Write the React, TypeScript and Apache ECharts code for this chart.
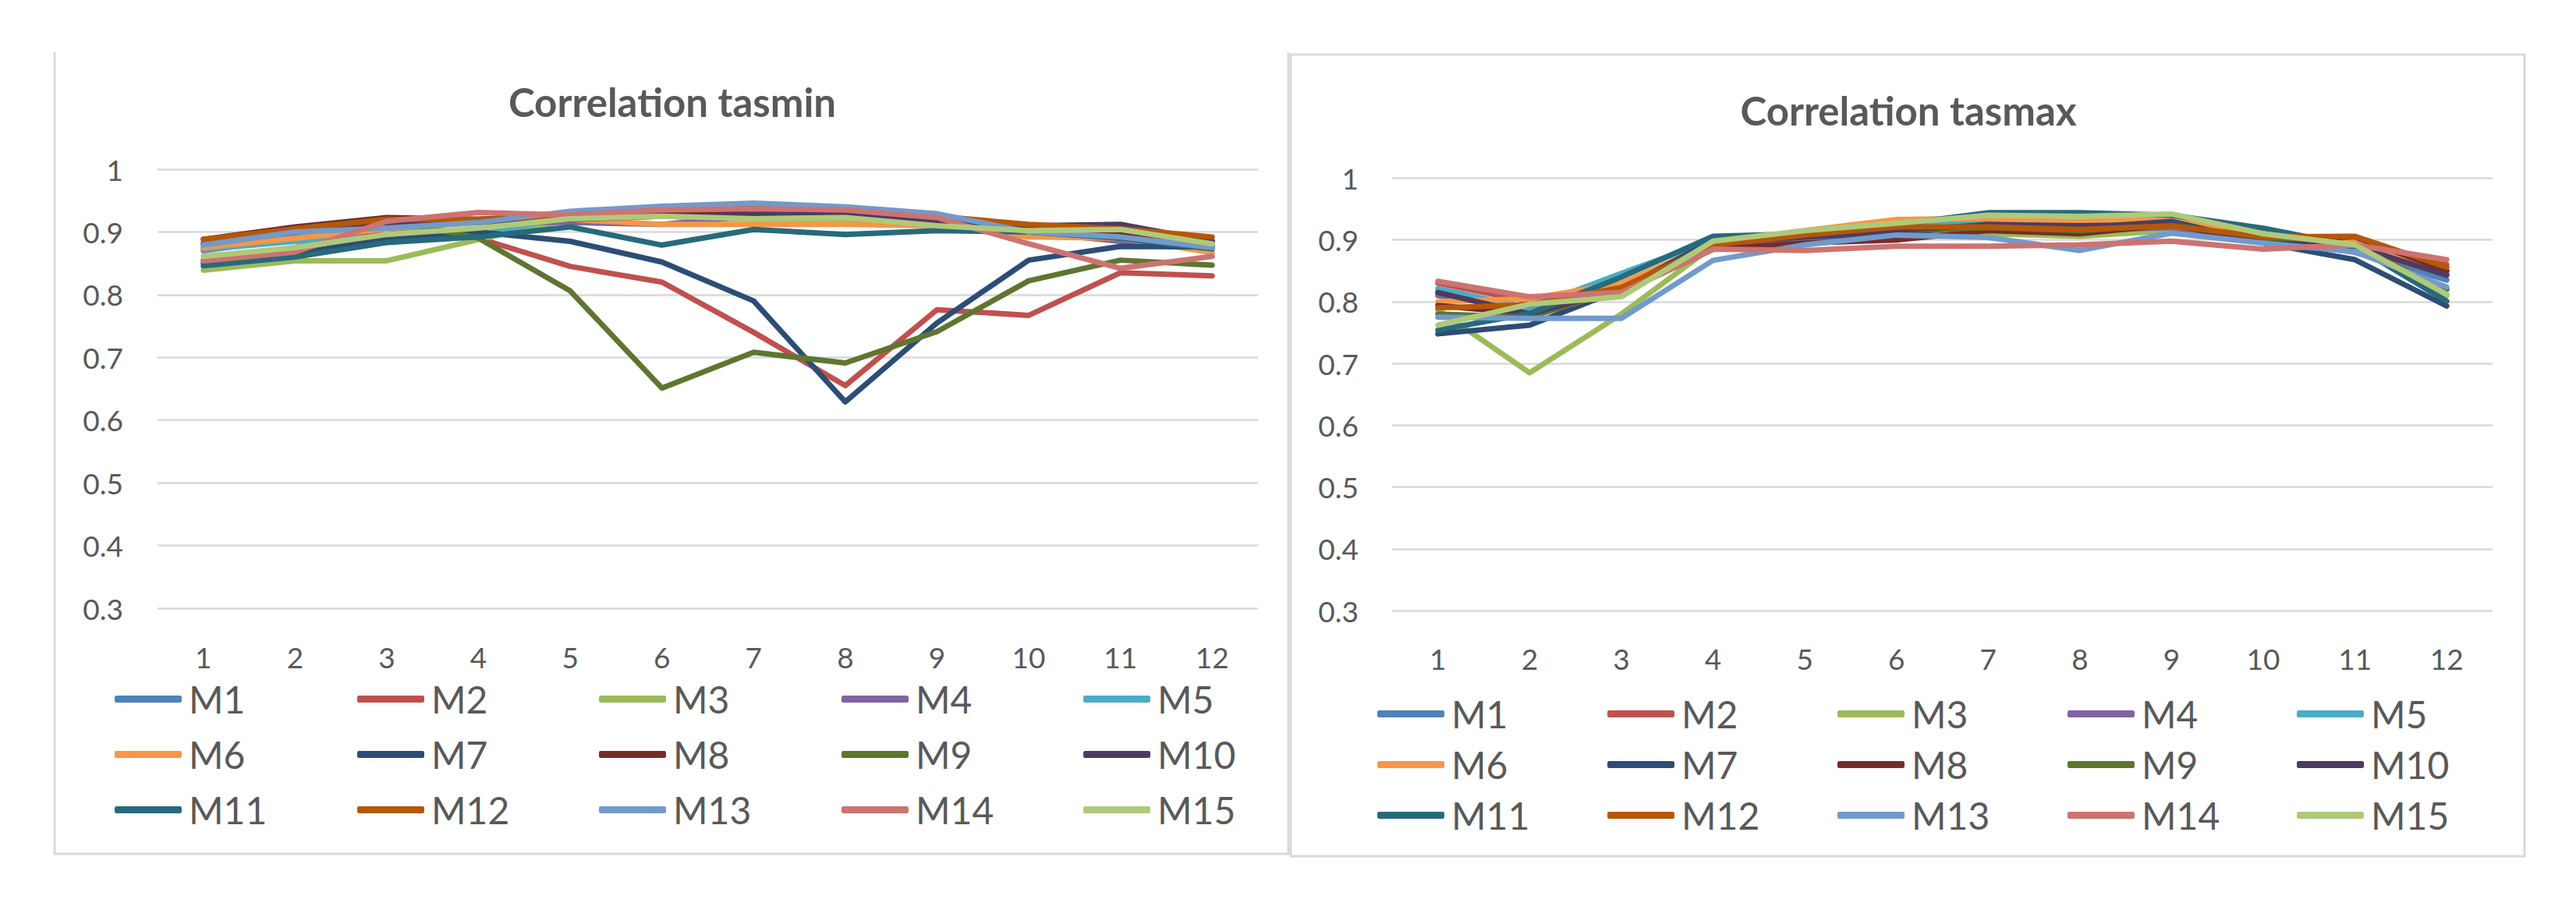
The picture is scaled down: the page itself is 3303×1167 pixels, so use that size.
import React, { useEffect, useRef } from "react";
import * as echarts from "echarts";

const months = ["1", "2", "3", "4", "5", "6", "7", "8", "9", "10", "11", "12"];
const modelNames = ["M1", "M2", "M3", "M4", "M5", "M6", "M7", "M8", "M9", "M10", "M11", "M12", "M13", "M14", "M15"];
const modelColors = [
  "#4F81BD", "#C0504D", "#9BBB59", "#8064A2", "#4BACC6",
  "#F79646", "#2C4D75", "#772C2A", "#5F7530", "#4D3B62",
  "#276A7C", "#B65708", "#729ACA", "#CD7371", "#AFC97A",
];
const yTicks = [0.3, 0.4, 0.5, 0.6, 0.7, 0.8, 0.9, 1];
const titles = ["Correlation tasmin", "Correlation tasmax"];

// Correlation tasmin
const tasmin_M1 = [0.875, 0.895, 0.91, 0.92, 0.93, 0.94, 0.945, 0.935, 0.925, 0.905, 0.895, 0.88];
const tasmin_M2 = [0.855, 0.875, 0.905, 0.89, 0.845, 0.82, 0.74, 0.655, 0.776, 0.767, 0.835, 0.83];
const tasmin_M3 = [0.839, 0.854, 0.854, 0.888, 0.92, 0.925, 0.92, 0.92, 0.91, 0.9, 0.9, 0.88];
const tasmin_M4 = [0.87, 0.89, 0.91, 0.915, 0.915, 0.912, 0.925, 0.925, 0.915, 0.9, 0.885, 0.875];
const tasmin_M5 = [0.872, 0.885, 0.893, 0.895, 0.925, 0.935, 0.935, 0.93, 0.92, 0.905, 0.895, 0.88];
const tasmin_M6 = [0.875, 0.89, 0.905, 0.915, 0.92, 0.912, 0.912, 0.912, 0.91, 0.892, 0.89, 0.867];
const tasmin_M7 = [0.85, 0.865, 0.89, 0.9, 0.885, 0.852, 0.79, 0.629, 0.755, 0.855, 0.877, 0.876];
const tasmin_M8 = [0.888, 0.908, 0.923, 0.92, 0.925, 0.93, 0.935, 0.935, 0.92, 0.905, 0.9, 0.885];
const tasmin_M9 = [0.882, 0.905, 0.92, 0.89, 0.806, 0.651, 0.708, 0.691, 0.741, 0.822, 0.855, 0.847];
const tasmin_M10 = [0.88, 0.9, 0.915, 0.915, 0.92, 0.925, 0.927, 0.93, 0.915, 0.91, 0.912, 0.885];
const tasmin_M11 = [0.846, 0.86, 0.883, 0.892, 0.908, 0.879, 0.904, 0.896, 0.902, 0.9, 0.89, 0.873];
const tasmin_M12 = [0.888, 0.905, 0.92, 0.92, 0.925, 0.935, 0.94, 0.939, 0.925, 0.912, 0.905, 0.892];
const tasmin_M13 = [0.879, 0.9, 0.906, 0.915, 0.933, 0.941, 0.946, 0.94, 0.929, 0.9, 0.892, 0.875];
const tasmin_M14 = [0.854, 0.868, 0.917, 0.931, 0.927, 0.935, 0.937, 0.935, 0.923, 0.881, 0.842, 0.861];
const tasmin_M15 = [0.861, 0.875, 0.896, 0.906, 0.921, 0.925, 0.921, 0.923, 0.91, 0.902, 0.904, 0.881];

// Correlation tasmax
const tasmax_M1 = [0.815, 0.785, 0.83, 0.885, 0.9, 0.91, 0.915, 0.91, 0.915, 0.9, 0.88, 0.835];
const tasmax_M2 = [0.83, 0.8, 0.82, 0.89, 0.905, 0.915, 0.92, 0.915, 0.92, 0.9, 0.895, 0.86];
const tasmax_M3 = [0.787, 0.685, 0.78, 0.89, 0.91, 0.915, 0.91, 0.906, 0.915, 0.905, 0.89, 0.81];
const tasmax_M4 = [0.81, 0.79, 0.83, 0.89, 0.905, 0.915, 0.92, 0.915, 0.92, 0.9, 0.885, 0.845];
const tasmax_M5 = [0.821, 0.79, 0.846, 0.9, 0.91, 0.925, 0.93, 0.925, 0.93, 0.905, 0.885, 0.82];
const tasmax_M6 = [0.8, 0.805, 0.83, 0.895, 0.915, 0.933, 0.935, 0.93, 0.935, 0.91, 0.895, 0.85];
const tasmax_M7 = [0.748, 0.762, 0.82, 0.9, 0.905, 0.91, 0.925, 0.92, 0.93, 0.895, 0.868, 0.793];
const tasmax_M8 = [0.794, 0.78, 0.815, 0.885, 0.895, 0.9, 0.915, 0.91, 0.925, 0.9, 0.905, 0.85];
const tasmax_M9 = [0.78, 0.775, 0.82, 0.895, 0.905, 0.915, 0.92, 0.915, 0.925, 0.9, 0.89, 0.82];
const tasmax_M10 = [0.815, 0.78, 0.82, 0.895, 0.905, 0.915, 0.925, 0.923, 0.925, 0.895, 0.89, 0.843];
const tasmax_M11 = [0.754, 0.781, 0.84, 0.906, 0.91, 0.925, 0.944, 0.944, 0.94, 0.919, 0.89, 0.801];
const tasmax_M12 = [0.79, 0.795, 0.823, 0.892, 0.908, 0.921, 0.921, 0.917, 0.923, 0.905, 0.906, 0.856];
const tasmax_M13 = [0.775, 0.773, 0.773, 0.867, 0.892, 0.908, 0.904, 0.883, 0.911, 0.895, 0.881, 0.824];
const tasmax_M14 = [0.833, 0.808, 0.815, 0.885, 0.883, 0.89, 0.89, 0.892, 0.898, 0.885, 0.892, 0.868];
const tasmax_M15 = [0.762, 0.796, 0.808, 0.898, 0.915, 0.927, 0.94, 0.938, 0.942, 0.91, 0.892, 0.812];

const tasminSeries = [
  tasmin_M1, tasmin_M2, tasmin_M3, tasmin_M4, tasmin_M5, tasmin_M6, tasmin_M7, tasmin_M8,
  tasmin_M9, tasmin_M10, tasmin_M11, tasmin_M12, tasmin_M13, tasmin_M14, tasmin_M15,
];
const tasmaxSeries = [
  tasmax_M1, tasmax_M2, tasmax_M3, tasmax_M4, tasmax_M5, tasmax_M6, tasmax_M7, tasmax_M8,
  tasmax_M9, tasmax_M10, tasmax_M11, tasmax_M12, tasmax_M13, tasmax_M14, tasmax_M15,
];

const FONT = "Lato, 'Open Sans', sans-serif";
const TEXT = "#595959";
const GRID_LINE = "#D9D9D9";

export default function App() {
  const ref = useRef<HTMLDivElement>(null);

  useEffect(() => {
    if (!ref.current) return;
    const chart = echarts.init(ref.current, undefined, { renderer: "svg" });

    const grids = [
      { left: 202, top: 217, width: 1411, height: 563 },
      { left: 1785, top: 228.5, width: 1411, height: 554.5 },
    ];
    const titleCenters = [
      { x: 862, y: 130 },
      { x: 2447, y: 141 },
    ];
    const labelMargins = [44, 43];
    const xLabelMargins = [44, 43];
    const legendCols = [
      [147, 458, 768, 1079, 1389],
      [1766, 2061, 2356, 2651, 2945],
    ];
    const legendTops = [872, 891];
    const legendGaps = [22, 16];

    const xAxes = grids.map((_, i) => ({
      type: "category",
      gridIndex: i,
      data: months,
      boundaryGap: true,
      axisLine: { show: false },
      axisTick: { show: false },
      axisLabel: {
        color: TEXT,
        fontFamily: FONT,
        fontSize: 37,
        margin: xLabelMargins[i],
      },
    }));
    const yAxes = grids.map((_, i) => ({
      type: "value",
      gridIndex: i,
      min: yTicks[0],
      max: yTicks[yTicks.length - 1],
      interval: 0.1,
      axisLine: { show: false },
      axisTick: { show: false },
      splitLine: { show: true, lineStyle: { color: GRID_LINE, width: 2.5 } },
      axisLabel: {
        color: TEXT,
        fontFamily: FONT,
        fontSize: 37,
        margin: labelMargins[i],
        formatter: (v: number) => String(+v.toFixed(1)),
      },
    }));

    const makeSeries = (sets: number[][], idx: number) =>
      sets.map((vals, k) => ({
        type: "line",
        name: modelNames[k],
        xAxisIndex: idx,
        yAxisIndex: idx,
        data: vals,
        symbol: "none",
        smooth: false,
        color: modelColors[k],
        lineStyle: { width: 7, color: modelColors[k], cap: "round", join: "round" },
        emphasis: { disabled: true },
      }));

    const legends: any[] = [];
    [0, 1].forEach((c) => {
      legendCols[c].forEach((x, col) => {
        legends.push({
          orient: "vertical",
          left: x,
          top: legendTops[c],
          padding: 0,
          itemGap: legendGaps[c],
          itemWidth: 86,
          itemHeight: 9,
          icon: "roundRect",
          selectedMode: false,
          data: [modelNames[col], modelNames[col + 5], modelNames[col + 10]],
          textStyle: {
            color: TEXT,
            fontFamily: FONT,
            fontSize: 48,
            lineHeight: 49,
            padding: [0, 0, 0, 4],
          },
        });
      });
    });

    const option: any = {
      animation: false,
      backgroundColor: "#ffffff",
      title: titles.map((t, i) => ({
        text: t,
        left: titleCenters[i].x,
        top: titleCenters[i].y,
        textAlign: "center",
        textVerticalAlign: "middle",
        padding: 0,
        textStyle: {
          color: TEXT,
          fontFamily: FONT,
          fontSize: 51,
          fontWeight: "bold",
        },
      })),
      grid: grids,
      xAxis: xAxes,
      yAxis: yAxes,
      legend: legends,
      series: [...makeSeries(tasminSeries, 0), ...makeSeries(tasmaxSeries, 1)],
      graphic: [
        {
          type: "polyline",
          silent: true,
          shape: { points: [[70, 67], [70, 1095], [1652, 1095], [1652, 67]] },
          style: { stroke: GRID_LINE, lineWidth: 3, fill: "none" },
        },
        {
          type: "rect",
          silent: true,
          shape: { x: 1655, y: 70, width: 1582, height: 1028 },
          style: { stroke: GRID_LINE, lineWidth: 3, fill: "none" },
        },
      ],
    };

    chart.setOption(option);
    return () => chart.dispose();
  }, []);

  return (
    <div
      ref={ref}
      style={{ position: "fixed", left: 0, top: 0, width: 3303, height: 1167, background: "#fff" }}
    />
  );
}
